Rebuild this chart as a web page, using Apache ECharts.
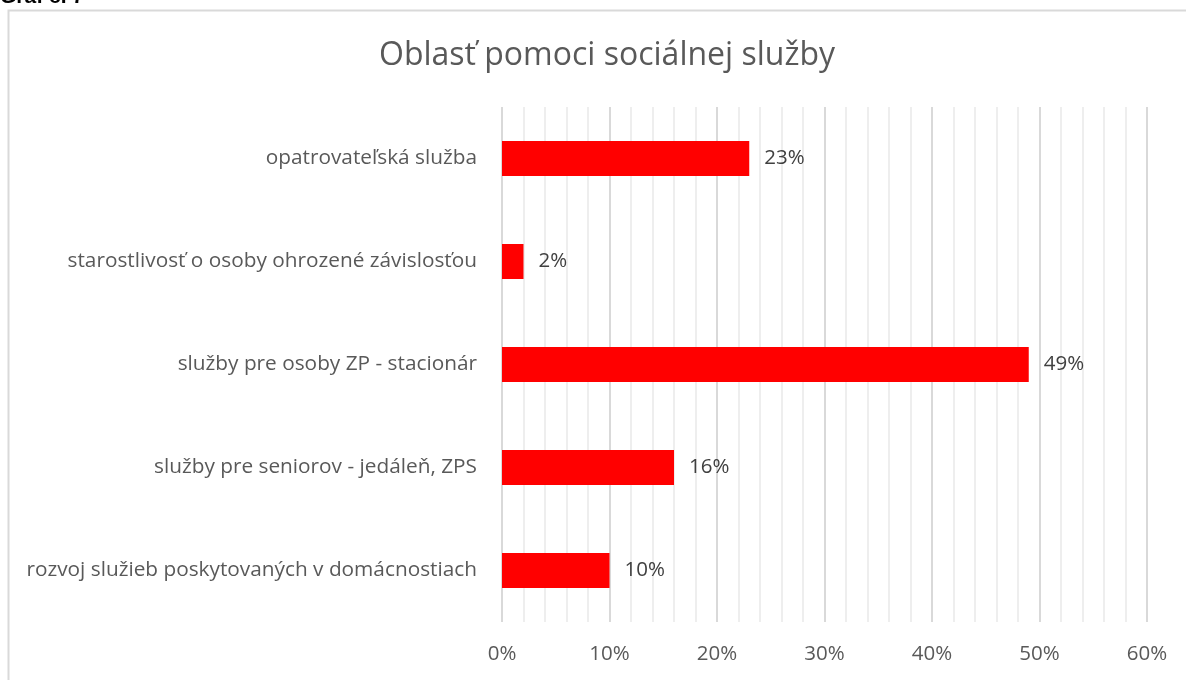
<!DOCTYPE html>
<html>
<head>
<meta charset="utf-8">
<script src="https://cdn.jsdelivr.net/npm/echarts@6/dist/echarts.min.js"></script>
<style>
html,body{margin:0;padding:0;background:#fff;}
#c{width:1186px;height:680px;}
</style>
</head>
<body>
<div id="c"></div>
<script>
const categories = [
  "opatrovateľská služba",
  "starostlivosť o osoby ohrozené závislosťou",
  "služby pre osoby ZP - stacionár",
  "služby pre seniorov - jedáleň, ZPS",
  "rozvoj služieb poskytovaných v domácnostiach"
];
const values = [23, 2, 49, 16, 10];
const titleText = "Oblasť pomoci sociálnej služby";
const captionText = "Graf č. 7";

const FONT = "Open Sans";
const chart = echarts.init(document.getElementById('c'), null, {renderer: 'canvas'});
chart.setOption({
  animation: false,
  backgroundColor: '#ffffff',
  title: {
    text: titleText,
    left: 602, top: 35, textAlign: 'center',
    textStyle: {fontFamily: FONT, fontSize: 32, fontWeight: 'normal', color: '#595959'}
  },
  graphic: [
    {type: 'rect', shape: {x: 8.5, y: 10.5, width: 1200, height: 700},
     style: {fill: 'none', stroke: '#d9d9d9', lineWidth: 2}, z: -10},
    {type: 'text', left: 0, top: -13,
     style: {text: captionText, font: 'bold 21px "Liberation Sans", Arial', fill: '#000'}}
  ],
  grid: {left: 502, right: 39, top: 107, bottom: 58, containLabel: false},
  xAxis: {
    type: 'value', min: 0, max: 60, interval: 10,
    axisLine: {show: false}, axisTick: {show: false},
    axisLabel: {formatter: '{value}%', fontFamily: FONT, fontSize: 20.5, color: '#595959', margin: 22},
    splitLine: {show: true, lineStyle: {color: '#d9d9d9', width: 2}},
    minorTick: {show: false, splitNumber: 5},
    minorSplitLine: {show: true, lineStyle: {color: '#eeeeee', width: 2}}
  },
  yAxis: {
    type: 'category', data: categories, inverse: true,
    axisLine: {show: false}, axisTick: {show: false},
    axisLabel: {fontFamily: FONT, fontSize: 20.8, color: '#595959', margin: 25}
  },
  series: [{
    type: 'bar', data: values, barWidth: 35,
    itemStyle: {color: '#ff0000'},
    label: {show: true, position: 'right', distance: 15, formatter: '{c}%',
            fontFamily: FONT, fontSize: 20.5, color: '#404040'}
  }]
});
</script>
</body>
</html>
